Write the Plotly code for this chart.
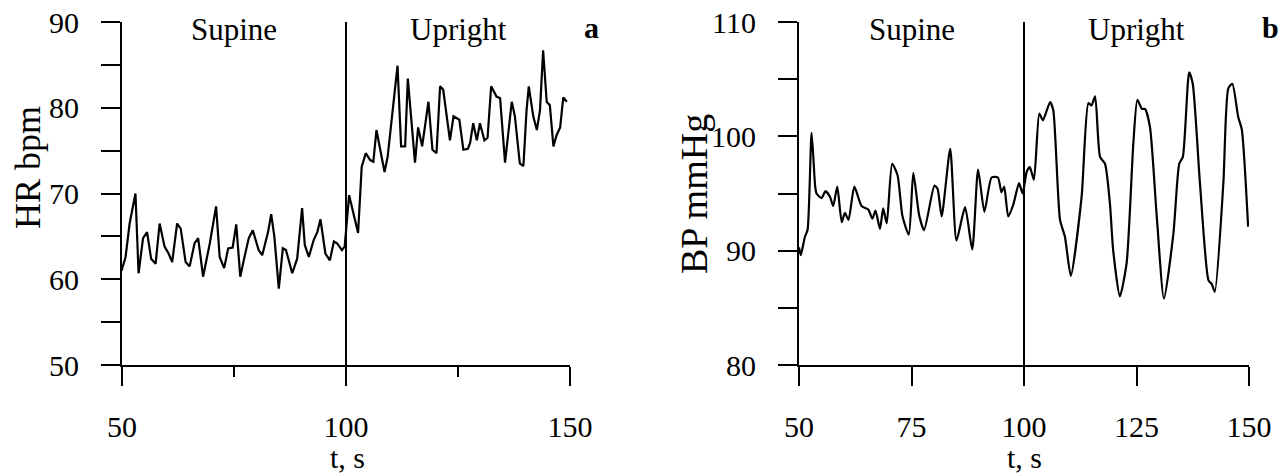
import plotly.graph_objects as go

# ---------------- data ----------------
hr_t = [49.9, 50.8, 51.7, 52.3, 53.0, 53.7, 54.7, 55.6, 56.5, 57.5, 58.4, 59.5, 60.4, 61.2,
        62.3, 63.1, 64.2, 65.1, 66.2, 67.0, 68.1, 69.6, 71.0, 71.8, 72.8, 73.7, 74.7, 75.5,
        76.4, 77.3, 78.3, 79.2, 80.5, 81.3, 82.6, 83.3, 84.0, 85.0, 85.9, 86.6, 88.0, 89.1,
        90.2, 90.8, 91.7, 92.8, 93.6, 94.3, 95.4, 96.4, 97.3, 98.0, 99.1, 99.7,
        100.7, 102.7, 103.5, 104.4, 105.4, 106.1, 106.8, 108.6, 109.3, 111.5, 112.3, 113.2,
        113.8, 115.4, 116.1, 117.0, 118.4, 119.3, 120.2, 121.0, 121.7, 123.2, 124.0, 125.3,
        126.2, 127.2, 127.7, 128.4, 129.2, 129.9, 130.9, 131.6, 132.4, 133.6, 134.4, 135.5,
        137.0, 137.7, 138.8, 139.6, 140.3, 140.8, 141.8, 142.6, 143.3, 144.0, 144.8, 145.5,
        146.3, 147.0, 147.8, 148.5, 149.3]
hr_v = [61.0, 62.6, 66.5, 68.0, 70.0, 60.7, 64.8, 65.5, 62.4, 61.8, 66.5, 63.8, 63.0, 62.0,
        66.5, 65.9, 62.0, 61.5, 64.2, 64.8, 60.3, 64.2, 68.5, 62.6, 61.3, 63.6, 63.7, 66.4,
        60.3, 62.5, 64.8, 65.7, 63.4, 62.8, 65.5, 67.6, 65.0, 58.9, 63.6, 63.4, 60.7, 62.4,
        68.3, 64.0, 62.6, 64.6, 65.5, 67.0, 63.0, 62.2, 64.4, 64.2, 63.4, 63.8,
        69.8, 65.4, 73.1, 74.7, 73.9, 73.7, 77.4, 72.5, 74.3, 84.9, 75.5, 75.5,
        83.4, 73.6, 77.7, 75.5, 80.7, 75.1, 74.7, 82.5, 82.1, 76.2, 79.0, 78.6,
        75.1, 75.2, 75.9, 78.2, 76.2, 78.2, 76.2, 76.5, 82.5, 81.3, 81.1, 73.6,
        80.7, 79.0, 73.5, 73.2, 79.7, 82.5, 79.0, 77.4, 79.7, 86.7, 80.7, 80.3,
        75.5, 76.8, 77.7, 81.2, 80.7]

bp_t = [50.0, 50.4, 51.3, 51.9, 52.8, 53.6, 53.9, 55.0, 55.9, 56.9, 57.6, 58.5, 59.5, 60.2,
        61.0, 62.3, 63.9, 65.4, 66.3, 67.0, 68.0, 68.7, 69.5, 70.7, 71.9, 73.0, 74.4, 75.4,
        76.7, 77.8, 80.1, 80.8, 81.7, 83.6, 85.0, 86.9, 88.5, 89.8, 91.2, 92.8, 94.2, 95.0,
        95.6, 96.5, 97.6, 98.9, 99.7, 100.6, 101.3, 102.2, 103.4, 104.2, 105.8, 106.5, 108.0,
        109.1, 110.4, 112.8, 114.3, 115.0, 115.8, 116.9, 118.0, 119.1, 119.8, 121.3, 122.8,
        124.3, 125.2, 126.2, 126.9, 128.0, 129.5, 131.1, 133.2, 134.5, 135.3, 136.7, 137.5,
        139.1, 141.0, 141.7, 142.4, 144.3, 145.4, 146.3, 147.6, 148.4, 149.8]
bp_v = [90.3, 89.6, 91.2, 91.8, 100.3, 95.6, 95.0, 94.6, 95.2, 94.7, 93.9, 95.6, 92.5, 93.3,
        92.7, 95.6, 93.9, 93.6, 92.8, 93.5, 91.9, 93.7, 92.4, 97.6, 96.6, 93.0, 91.4, 96.8,
        93.1, 91.8, 95.7, 95.4, 93.0, 98.9, 90.9, 93.8, 90.1, 97.1, 93.4, 96.4, 96.4, 95.1,
        95.6, 93.0, 94.0, 95.9, 95.0, 96.9, 97.3, 96.2, 102.0, 101.4, 103.0, 102.3, 92.7,
        91.2, 87.8, 94.7, 102.9, 102.7, 103.5, 98.2, 97.6, 94.1, 90.1, 86.0, 88.9,
        99.4, 103.2, 102.4, 102.4, 100.8, 93.0, 85.8, 91.5, 97.6, 98.2, 105.6, 104.6,
        95.9, 87.4, 87.1, 86.4, 95.9, 104.2, 104.6, 101.7, 100.6, 92.1]

phase_labels = ["Supine", "Upright"]
phase_pos = [75, 125]
panel_tags = ["a", "b"]
x_ticks_a = [50, 100, 150]
x_ticks_b = [50, 75, 100, 125, 150]
y_ticks_a = [50, 60, 70, 80, 90]
y_ticks_b = [80, 90, 100, 110]

# ---------------- layout geometry ----------------
# the page adds an 8 px body margin, so the figure is 8 px smaller and offset
OFF = 8
W, H = 1288 - OFF, 474 - OFF
FONT = "Liberation Serif"
def px(x):
    return (x - OFF) / W
def py(y):
    return 1 - (y - OFF) / H

ydom = [py(365), py(22)]

fig = go.Figure()
fig.add_trace(go.Scatter(x=hr_t, y=hr_v, mode="lines", line=dict(color="black", width=2.2),
                         xaxis="x", yaxis="y", showlegend=False))
fig.add_trace(go.Scatter(x=bp_t, y=bp_v, mode="lines",
                         line=dict(color="black", width=2.2, shape="spline", smoothing=0.6),
                         xaxis="x2", yaxis="y2", showlegend=False))

common_axis = dict(showline=True, linecolor="black", linewidth=2, ticks="outside",
                   tickcolor="black", tickwidth=2, showgrid=False, zeroline=False,
                   automargin=False, ticklabeloverflow="allow",
                   tickfont=dict(family=FONT, size=30, color="black"))

fig.update_layout(
    template="none",
    width=W, height=H, margin=dict(l=0, r=0, t=0, b=0, pad=0),
    paper_bgcolor="white", plot_bgcolor="white",
    font=dict(family=FONT, color="black"),
    xaxis=dict(domain=[px(122), px(570)], range=[50, 150], tickvals=x_ticks_a, ticklen=19,
               ticklabelstandoff=15, anchor="y",
               minor=dict(tickvals=[75, 125], ticklen=10, ticks="outside", tickcolor="black",
                          tickwidth=2), **common_axis),
    yaxis=dict(domain=ydom, range=[50, 90], tickvals=y_ticks_a, ticklen=19,
               ticklabelstandoff=16, anchor="x",
               minor=dict(tickvals=[55, 65, 75, 85], ticklen=19, ticks="outside",
                          tickcolor="black", tickwidth=2), **common_axis),
    xaxis2=dict(domain=[px(799), px(1249)], range=[50, 150], tickvals=x_ticks_b, ticklen=19,
                ticklabelstandoff=15, anchor="y2", **common_axis),
    yaxis2=dict(domain=ydom, range=[80, 110], tickvals=y_ticks_b, ticklen=19,
                ticklabelstandoff=16, anchor="x2",
                minor=dict(tickvals=[85, 95, 105], ticklen=19, ticks="outside",
                           tickcolor="black", tickwidth=2), **common_axis),
)

# divider lines at t = 100
fig.add_shape(type="line", xref="x", yref="y", x0=100, x1=100, y0=50, y1=90,
              line=dict(color="black", width=2))
fig.add_shape(type="line", xref="x2", yref="y2", x0=100, x1=100, y0=80, y1=110,
              line=dict(color="black", width=2))

def note(text, x, y, xref="paper", size=30, angle=0):
    return dict(text=text, x=x, xref=xref, y=y, yref="paper", showarrow=False,
                xanchor="center", yanchor="middle", textangle=angle,
                font=dict(family=FONT, size=size, color="black"))

ann = []
for xr in ["x", "x2"]:
    for lab, pos in zip(phase_labels, phase_pos):
        ann.append(note(lab, pos, py(30), xref=xr, size=31))
ann.append(note("<b>%s</b>" % panel_tags[0], px(591), py(28)))
ann.append(note("<b>%s</b>" % panel_tags[1], px(1270), py(28)))
ann.append(note("HR bpm", px(28), py(168), size=36, angle=-90))
ann.append(note("BP mmHg", px(694), py(194), size=38, angle=-90))
ann.append(note("t, s", px(347), py(457)))
ann.append(note("t, s", px(1024), py(457)))
fig.update_layout(annotations=ann)

fig.write_html("out.html")
